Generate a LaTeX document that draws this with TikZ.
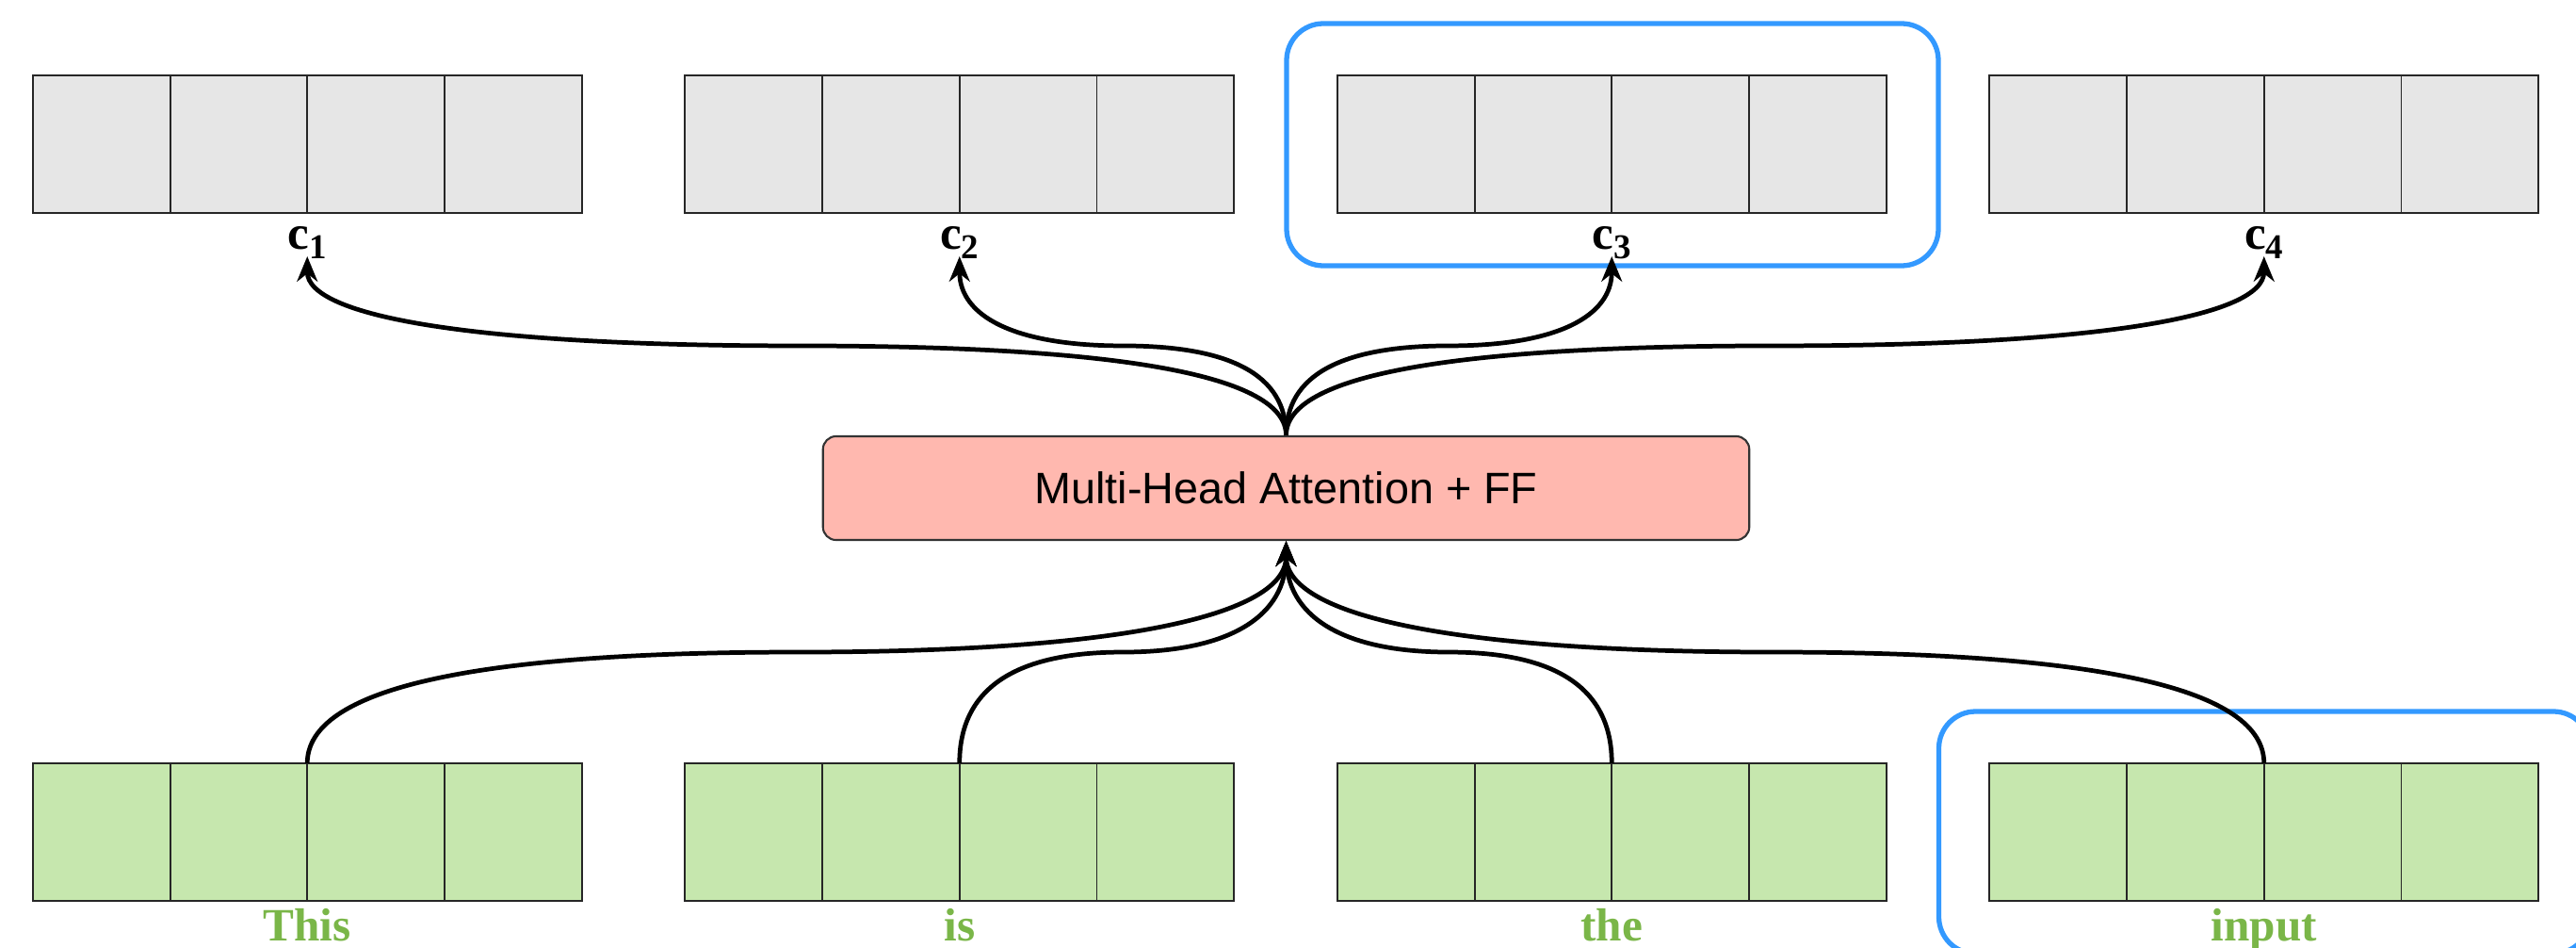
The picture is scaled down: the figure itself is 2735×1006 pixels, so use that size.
\documentclass[tikz,border=0pt]{standalone}
\usepackage{fontspec}
\setmainfont{Liberation Serif}
\setsansfont{Liberation Sans}
\usetikzlibrary{arrows.meta,calc}

\definecolor{vecgray}{HTML}{E6E6E6}
\definecolor{vecgreen}{HTML}{C6E7AE}
\definecolor{wordgreen}{HTML}{7AB648}
\definecolor{attnpink}{HTML}{FFB8AF}
\definecolor{hlblue}{HTML}{3399FF}

% lowered, smaller index for the context vectors
\newcommand\vecidx[1]{\raisebox{-3pt}{\fontsize{10.5}{10.5}\selectfont #1}}

\begin{document}
\begin{tikzpicture}[x=0.01cm, y=-0.01cm,
  vec/.style={draw=black!85, line width=0.6pt, minimum width=5.825cm,
    minimum height=1.46cm, inner sep=0pt, outer sep=0pt},
  divider/.style={draw=black!85, line width=0.55pt},
  clabel/.style={font=\fontsize{14.5}{14.5}\selectfont\bfseries, inner sep=0pt,
    text depth=2pt, anchor=south},
  wlabel/.style={font=\fontsize{14}{14}\selectfont\bfseries, text=wordgreen,
    inner sep=0pt, anchor=base},
  hl/.style={draw=hlblue, line width=1.5pt, rounded corners=0.39cm},
  attn/.style={draw=black!80, line width=0.6pt, fill=attnpink,
    rounded corners=0.14cm, minimum width=9.83cm, minimum height=1.1cm,
    inner sep=0pt, font=\sffamily\fontsize{13.3}{14}\selectfont},
  % vertical start, horizontal middle, vertical end (two quadratic pieces)
  flow/.style={line width=1.35pt, -{Stealth[length=7.6pt, width=6.2pt, inset=2.4pt]},
    to path={
      let \p1=(\tikztostart), \p2=(\tikztotarget) in
      .. controls (\x1, {\y1+(\y2-\y1)/3}) and ({\x1+(\x2-\x1)/6}, {(\y1+\y2)/2})
      .. ({(\x1+\x2)/2}, {(\y1+\y2)/2})
      .. controls ({\x2-(\x2-\x1)/6}, {(\y1+\y2)/2}) and (\x2, {\y2+(\y1-\y2)/3})
      .. (\tikztotarget)}},
]
\useasboundingbox (0,0) rectangle (2735,1006);
\clip (0,0) rectangle (2735,1006);

% highlight frames
\draw[hl] (1366,25) rectangle (2058,282);
\draw[hl] (2058.5,755) rectangle (2750,1012);

% context vectors (top) and input embeddings (bottom)
\foreach \k/\x in {1/326.25, 2/1018.75, 3/1711.25, 4/2403.75} {
  \node[vec, fill=vecgray] (top\k) at (\x,153) {};
  \node[vec, fill=vecgreen] (bot\k) at (\x,883) {};
  \foreach \j in {1,2,3} {
    \draw[divider] ($(top\k.north west)!\j/4!(top\k.north east)$) --
                   ($(top\k.south west)!\j/4!(top\k.south east)$);
    \draw[divider] ($(bot\k.north west)!\j/4!(bot\k.north east)$) --
                   ($(bot\k.south west)!\j/4!(bot\k.south east)$);
  }
  \node[clabel] (c\k) at (\x,272) {c\vecidx{\k}};
}

\node[wlabel] (w1) at (326.25,998) {This};
\node[wlabel] (w2) at (1018.75,998) {is};
\node[wlabel] (w3) at (1711.25,998) {the};
\node[wlabel] (w4) at (2403.75,998) {input};

% encoder block
\node[attn] (attn) at (1365.5,518) {Multi-Head Attention + FF};

% connectors
\foreach \k in {1,...,4} {
  \draw[flow] (attn.north) to (c\k.south);
  \draw[flow] (bot\k.north) to (attn.south);
}
\end{tikzpicture}
\end{document}
